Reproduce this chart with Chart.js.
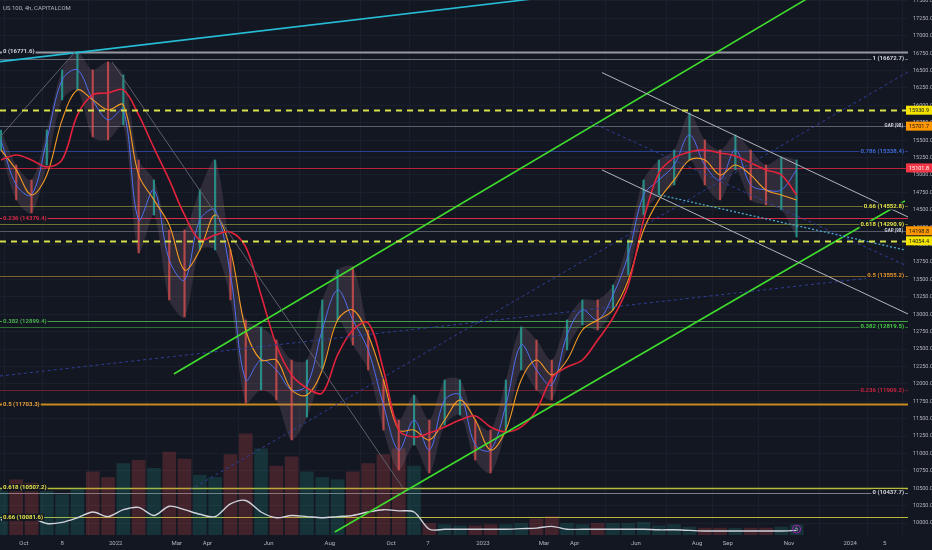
<!DOCTYPE html>
<html>
<head>
<meta charset="utf-8">
<title>US 100, 4h, CAPITALCOM</title>
<script src="https://cdn.jsdelivr.net/npm/chart.js@4.4.0/dist/chart.umd.min.js"></script>
<style>
  html, body { margin: 0; padding: 0; background: #131722; }
  canvas { display: block; }
</style>
</head>
<body>
<canvas id="chart" width="932" height="550"></canvas>
<script>
// Sample positions in months (0 = Oct 2021), two per month
const months = [-0.75, -0.25, 0.25, 0.75, 1.25, 1.75, 2.25, 2.75, 3.25, 3.75, 4.25, 4.75, 5.25, 5.75,
  6.25, 6.75, 7.25, 7.75, 8.25, 8.75, 9.25, 9.75, 10.25, 10.75, 11.25, 11.75, 12.25, 12.75, 13.25,
  13.75, 14.25, 14.75, 15.25, 15.75, 16.25, 16.75, 17.25, 17.75, 18.25, 18.75, 19.25, 19.75, 20.25,
  20.75, 21.25, 21.75, 22.25, 22.75, 23.25, 23.75, 24.25, 24.75, 25.25];

const closes = [15504, 14857, 14713, 15504, 16366, 16510, 16079, 15791, 15935, 14354, 14785, 13779, 13492, 14354,
  14498, 13564, 12055, 12342, 12199, 11911, 11983, 12773, 13348, 12917, 12486, 11696, 11049, 11480, 11049,
  11768, 11839, 11121, 11049, 11696, 12558, 12199, 11983, 12702, 13061, 12917, 13276, 13851, 14713,
  14929, 15144, 15576, 15144, 14929, 15360, 14857, 14785, 14785, 15073];
const highs = [15647, 15144, 14929, 15647, 16510, 16768, 16510, 16625, 16438, 15216, 14929, 14210, 14210, 14785,
  15216, 13923, 12917, 12817, 12630, 12342, 12342, 13205, 13636, 13679, 12773, 12055, 11480, 11839, 11480,
  12055, 12055, 11480, 11336, 12055, 12817, 12630, 12342, 12917, 13205, 13205, 13420, 14067, 14929,
  15216, 15360, 15892, 15504, 15360, 15576, 15360, 15144, 15259, 15216];
const lows = [15360, 14642, 14455, 15144, 16079, 16222, 15547, 15504, 15719, 13880, 14426, 13205, 12960, 13923,
  13923, 13205, 11724, 11911, 11768, 11193, 11523, 12199, 12917, 12558, 12199, 11336, 10762, 11121, 10719,
  11408, 11552, 10905, 10719, 11336, 12199, 11911, 11768, 12486, 12845, 12773, 13061, 13564, 14426,
  14713, 14857, 15216, 14857, 14642, 15073, 14642, 14570, 14498, 14110];

const maSlow = [15216, 15288, 15216, 15116, 15216, 15863, 16150, 16179, 16222, 15863, 15389, 14929, 14426, 14067,
  14139, 14182, 13966, 13276, 12558, 12127, 11940, 11868, 12414, 12773, 12874, 12199, 11336, 11236, 11293,
  11380, 11480, 11538, 11380, 11308, 11380, 11624, 12084, 12242, 12342, 12630, 12946, 13420, 14354,
  15030, 15245, 15331, 15360, 15317, 15274, 15173, 15073, 15001, 14713];
const maMid = [15360, 15073, 14713, 15001, 15791, 16222, 16079, 15935, 16007, 15001, 14642, 14282, 13636, 13923,
  14426, 13923, 12773, 12342, 12342, 11911, 11839, 12199, 12917, 13061, 12702, 12055, 11336, 11336, 11193,
  11480, 11768, 11480, 11049, 11336, 12055, 12342, 12127, 12342, 12773, 12917, 13061, 13492, 14210,
  14642, 14929, 15216, 15216, 15001, 15144, 15001, 14785, 14713, 14642];

const volumes = [40, 48, 45, 38, 35, 40, 55, 50, 62, 65, 58, 72, 66, 52,
  50, 70, 88, 75, 60, 68, 55, 50, 48, 55, 62, 70, 75, 60, 10,
  9, 8, 8, 9, 9, 10, 14, 16, 10, 9, 10, 10, 10, 11,
  8, 9, 7, 6, 6, 6, 6, 6, 7, 9];
const volumeMa = [13, 17, 15, 10, 11, 15, 20, 16, 22, 24, 17, 25, 22, 18,
  16, 27, 30, 20, 15, 17, 16, 15, 16, 17, 20, 22, 21, 20, 5,
  5, 5, 5, 5, 5, 5.5, 6, 7.5, 5, 5, 5, 5, 5, 5,
  4.5, 4.5, 4, 3.5, 3.5, 3.5, 3.5, 3.5, 3.5, 4];

const xTickPos = [0, 1.25, 3, 5, 6, 8, 10, 12, 13.2, 15, 17, 18, 20, 22, 23, 25, 27, 28.13];
const xTickLabels = ['Oct', '8', '2022', 'Mar', 'Apr', 'Jun', 'Aug', 'Oct', '7', '2023', 'Mar', 'Apr', 'Jun', 'Aug', 'Sep', 'Nov', '2024', '5'];
const yTickValues = [10000, 10250, 10500, 10750, 11000, 11250, 11500, 11750, 12000, 12250, 12500, 12750, 13000,
  13250, 13500, 13750, 14000, 14250, 14500, 14750, 15000, 15250, 15500, 15750, 16000, 16250, 16500,
  16750, 17000, 17250, 17500];

// Drawn trend lines, [month, price] end points
const cyanTrend = [[-0.78, 16628], [20, 17705]];
const greenUpper = [[4.90, 12141], [28, 18160]];
const greenLower = [[10.16, 9871], [28.79, 14627]];
const channelUpper = [[18.89, 16471], [28.89, 14397]];
const channelLower = [[18.89, 15073], [28.89, 13003]];
const fibLegA = [[-0.78, 15547], [1.67, 16768]];
const fibLegB = [[2.88, 16625], [12.39, 10503]];
const dottedA = [[-0.78, 12112], [28.79, 13578]];
const dottedB = [[5.42, 10474], [28.89, 16481]];
const dottedC = [[18.5, 15762], [28.79, 13707]];
const dottedCyan = [[20.78, 14713], [28.79, 13923]];

// Horizontal levels
const levelValues = [16771.6, 16672.7, 15930.9, 15701.7, 15338.4, 15101.8, 14552.8, 14379.4, 14290.9, 14198.8,
  14054.4, 13555.2, 12899.4, 12819.5, 11909.2, 11703.3, 10507.2, 10437.7, 10081.6];
const leftFibRatios = ['0', '0.236', '0.382', '0.5', '0.618', '0.66'];
const leftFibValues = [16771.6, 14379.4, 12899.4, 11703.3, 10507.2, 10081.6];
const rightFibRatios = ['1', '0.786', '0.66', '0.618', '0.5', '0.382', '0.236', '0'];
const rightFibValues = [16672.7, 15338.4, 14552.8, 14290.9, 13555.2, 12819.5, 11909.2, 10437.7];
const tagValues = [15930.9, 15701.7, 15101.8, 14198.8, 14054.4];
const tagNotes = ['', 'GAP (98)', '', 'GAP (98)', ''];

// styles
const levelStyles = [
  { color: '#9598a1', width: 2 },
  { color: '#6a6d78', width: 1 },
  { color: '#d5e04a', width: 2, dash: [6, 5], front: true },
  { color: '#5d606b', width: 1 },
  { color: '#2b3f8f', width: 1 },
  { color: '#b8233a', width: 1 },
  { color: '#6f7230', width: 1 },
  { color: '#d92b48', width: 1 },
  { color: '#6f7230', width: 1 },
  { color: '#565966', width: 1 },
  { color: '#d5e04a', width: 2, dash: [6, 5], front: true },
  { color: '#7e6428', width: 1 },
  { color: '#43a047', width: 1 },
  { color: '#2f6e33', width: 1 },
  { color: '#6e1f30', width: 1 },
  { color: '#c98a1e', width: 2 },
  { color: '#b7bb3a', width: 1.5 },
  { color: '#7b7e88', width: 1 },
  { color: '#b7bb3a', width: 1.2 }
];
const leftFibColors = ['#d1d4dc', '#d92b48', '#4caf50', '#e8a33a', '#e6e34a', '#e6e34a'];
const rightFibColors = ['#d1d4dc', '#3f6bd6', '#e6e34a', '#e6e34a', '#e8952a', '#43c943', '#c9243f', '#d1d4dc'];
const tagColors = ['#f5e400', '#ff9800', '#f23645', '#ff9800', '#f5e400'];
const tagText = ['#131722', '#131722', '#ffffff', '#131722', '#131722'];
const BG = '#131722';

const up = closes.map((c, i) => i === 0 || c >= closes[i - 1]);

function pts(arr) {
  return arr.map(p => ({ x: p[0], y: p[1] }));
}

function trend(data, color, width, dash) {
  return {
    type: 'line', data: pts(data), borderColor: color, borderWidth: width,
    borderDash: dash || [], pointRadius: 0, tension: 0, order: 3
  };
}

function series(values, color, width, order) {
  return {
    type: 'line', data: months.map((m, i) => ({ x: m, y: values[i] })),
    borderColor: color, borderWidth: width, pointRadius: 0, tension: 0.35, order: order
  };
}

function drawLevel(ctx, area, y, value, style) {
  const py = Math.round(y.getPixelForValue(value)) + 0.5;
  ctx.strokeStyle = style.color;
  ctx.lineWidth = style.width;
  ctx.setLineDash(style.dash || []);
  ctx.beginPath();
  ctx.moveTo(area.left, py);
  ctx.lineTo(area.right, py);
  ctx.stroke();
}

function label(ctx, text, x, py, color, align) {
  ctx.font = 'bold 6px Roboto';
  const w = ctx.measureText(text).width;
  const left = align === 'right' ? x - w : x;
  ctx.fillStyle = BG;
  ctx.fillRect(left - 1, py - 3.5, w + 2, 7);
  ctx.fillStyle = color;
  ctx.textAlign = 'left';
  ctx.textBaseline = 'middle';
  ctx.fillText(text, left, py);
}

const overlay = {
  id: 'overlay',
  beforeDatasetsDraw(chart) {
    const { ctx, chartArea, scales } = chart;
    ctx.save();
    levelValues.forEach((v, i) => {
      if (!levelStyles[i].front) drawLevel(ctx, chartArea, scales.y, v, levelStyles[i]);
    });
    ctx.restore();
  },
  afterDatasetsDraw(chart) {
    const { ctx, chartArea, scales } = chart;
    ctx.save();
    levelValues.forEach((v, i) => {
      if (levelStyles[i].front) drawLevel(ctx, chartArea, scales.y, v, levelStyles[i]);
    });
    ctx.restore();
  },
  afterDraw(chart) {
    const { ctx, chartArea, scales: { x, y } } = chart;
    ctx.save();
    leftFibValues.forEach((v, i) => {
      label(ctx, leftFibRatios[i] + ' (' + v.toFixed(1) + ')', chartArea.left + 3, y.getPixelForValue(v), leftFibColors[i], 'left');
    });
    rightFibValues.forEach((v, i) => {
      label(ctx, rightFibRatios[i] + ' (' + v.toFixed(1) + ')', chartArea.right - 4, y.getPixelForValue(v), rightFibColors[i], 'right');
    });
    // price tags on the axis
    tagValues.forEach((v, i) => {
      const py = y.getPixelForValue(v);
      ctx.fillStyle = tagColors[i];
      ctx.fillRect(chartArea.right - 2, py - 4.5, 27, 9);
      ctx.fillStyle = tagText[i];
      ctx.font = '5.5px Roboto';
      ctx.textAlign = 'left';
      ctx.textBaseline = 'middle';
      ctx.fillText(v.toFixed(1), chartArea.right + 1, py + 0.5);
      if (tagNotes[i]) {
        ctx.fillStyle = '#d1d4dc';
        ctx.font = 'bold 4.5px Roboto';
        ctx.textAlign = 'right';
        ctx.fillText(tagNotes[i], chartArea.right - 5, py);
      }
    });
    // title
    ctx.fillStyle = '#b2b5be';
    ctx.font = '6px Roboto';
    ctx.textAlign = 'left';
    ctx.textBaseline = 'middle';
    ctx.fillText('US 100, 4h, CAPITALCOM', 3, 8);
    // alert icon at the last bar
    const ix = x.getPixelForValue(months[months.length - 1]);
    ctx.strokeStyle = '#9c27b0';
    ctx.lineWidth = 1;
    ctx.beginPath();
    ctx.arc(ix, chartArea.bottom - 6, 4, 0, Math.PI * 2);
    ctx.stroke();
    ctx.fillStyle = '#ce93d8';
    ctx.font = '6px DejaVu Sans';
    ctx.textAlign = 'center';
    ctx.fillText('ϟ', ix, chartArea.bottom - 6);
    ctx.restore();
  }
};

const ctx = document.getElementById('chart');
new Chart(ctx, {
  type: 'bar',
  data: {
    datasets: [
      {
        type: 'bar', yAxisID: 'vol', grouped: false, order: 20, barThickness: 13,
        data: months.map((m, i) => ({ x: m, y: volumes[i] })),
        backgroundColor: up.map(u => u ? 'rgba(38,166,154,0.2)' : 'rgba(239,83,80,0.22)')
      },
      {
        type: 'line', yAxisID: 'vol', order: 19, borderColor: '#d1d4dc', borderWidth: 1.4,
        pointRadius: 0, tension: 0.3, data: months.map((m, i) => ({ x: m, y: volumeMa[i] }))
      },
      trend(dottedA, '#2f3f99', 1, [3, 3]),
      trend(dottedB, '#2f3f99', 1, [3, 3]),
      trend(dottedC, '#2f3f99', 1, [3, 3]),
      trend(dottedCyan, '#4fb3d9', 1.2, [2, 2]),
      trend(fibLegA, '#5d606b', 1),
      trend(fibLegB, '#5d606b', 1),
      // candle range envelope
      {
        type: 'line', order: 10, borderWidth: 0, pointRadius: 0, tension: 0.3,
        data: months.map((m, i) => ({ x: m, y: highs[i] })),
        fill: '+1', backgroundColor: 'rgba(150,120,140,0.22)'
      },
      {
        type: 'line', order: 10, borderWidth: 0, pointRadius: 0, tension: 0.3,
        data: months.map((m, i) => ({ x: m, y: lows[i] }))
      },
      {
        type: 'bar', grouped: false, order: 8, barThickness: 1.5,
        data: months.map((m, i) => ({ x: m, y: [lows[i], highs[i]] })),
        backgroundColor: up.map(u => u ? 'rgba(38,166,154,0.8)' : 'rgba(239,83,80,0.7)')
      },
      series(closes, '#4f6ff0', 1, 7),
      series(maMid, '#f59b23', 1.1, 6),
      series(maSlow, '#e3223c', 1.6, 5),
      trend(channelUpper, '#b2b5be', 1),
      trend(channelLower, '#b2b5be', 1),
      trend(greenUpper, '#3fdc2e', 1.6),
      trend(greenLower, '#3fdc2e', 1.6),
      trend(cyanTrend, '#26bcd6', 1.6)
    ]
  },
  options: {
    responsive: false,
    animation: false,
    events: [],
    layout: { padding: 0 },
    plugins: { legend: { display: false }, tooltip: { enabled: false }, filler: { propagate: false } },
    scales: {
      x: {
        type: 'linear', min: -0.78, max: 28.89, offset: false,
        grid: { color: '#1b1f2b', drawTicks: false },
        border: { display: false },
        ticks: {
          color: '#b2b5be', font: { size: 6, family: 'Roboto' }, padding: 5, maxRotation: 0, autoSkip: false,
          callback: (v, i) => xTickLabels[i]
        },
        afterBuildTicks: s => { s.ticks = xTickPos.map(v => ({ value: v })); },
        afterFit: s => { s.height = 15; s.paddingLeft = 0; s.paddingRight = 0; }
      },
      y: {
        position: 'right', min: 9828, max: 17514,
        grid: { color: '#1b1f2b', drawTicks: false },
        border: { display: false },
        ticks: {
          color: '#b2b5be', font: { size: 5.5, family: 'Roboto' }, padding: 5, autoSkip: false,
          callback: v => v.toFixed(1)
        },
        afterBuildTicks: s => { s.ticks = yTickValues.map(v => ({ value: v })); },
        afterFit: s => { s.width = 24; s.paddingTop = 0; s.paddingBottom = 0; }
      },
      vol: { display: false, min: 0, max: 465 }
    }
  },
  plugins: [overlay]
});
</script>
</body>
</html>
